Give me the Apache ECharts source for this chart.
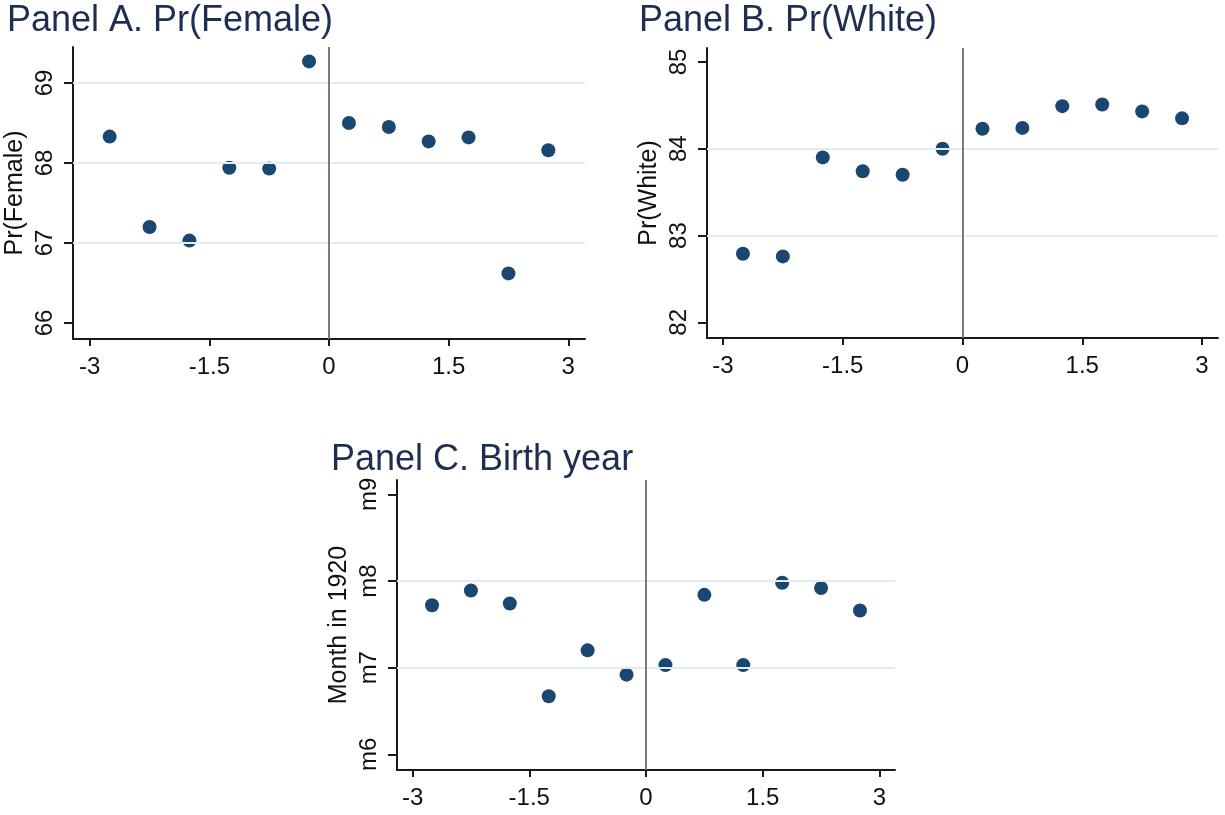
<!DOCTYPE html>
<html>
<head>
<meta charset="utf-8">
<script src="https://cdn.jsdelivr.net/npm/echarts@6/dist/echarts.min.js"></script>
<style>
  html, body { margin: 0; padding: 0; background: #ffffff; }
  #chart { width: 1225px; height: 815px; }
</style>
</head>
<body>
<div id="chart"></div>
<script>
// Bin midpoints of the running variable
const bins = [-2.75, -2.25, -1.75, -1.25, -0.75, -0.25, 0.25, 0.75, 1.25, 1.75, 2.25, 2.75];

// Binned means for each outcome
const female = [68.33, 67.20, 67.03, 67.94, 67.93, 69.27, 68.50, 68.45, 68.27, 68.32, 66.62, 68.16];
const white = [82.79, 82.76, 83.90, 83.74, 83.70, 84.00, 84.23, 84.24, 84.49, 84.51, 84.43, 84.35];
const birthMonth = [7.72, 7.89, 7.74, 6.67, 7.20, 6.92, 7.03, 7.84, 7.03, 7.98, 7.92, 7.66];

// Tick values and labels
const xTicks = [-3, -1.5, 0, 1.5, 3];
const femaleTicks = [66, 67, 68, 69];
const whiteTicks = [82, 83, 84, 85];
const monthTicks = [6, 7, 8, 9];
const monthTickLabels = ['m6', 'm7', 'm8', 'm9'];

// Horizontal reference lines
const femaleGrid = [67, 68, 69];
const whiteGrid = [83, 84];
const monthGrid = [7, 8];

const FONT = "'Liberation Sans', Arial, sans-serif";
const NAVY = '#1a476f';
const TITLE = '#1e2d52';
const INK = '#1a1a1a';

const panels = [
  {
    title: 'Panel A. Pr(Female)', titlePos: { left: 7, top: 3 },
    grid: { left: 73, top: 47, width: 512, height: 292 },
    xRange: [-3.21, 3.21], yRange: [65.8, 69.45],
    yTicks: femaleTicks, yName: 'Pr(Female)', ys: female, hlines: femaleGrid,
    fmt: v => String(v)
  },
  {
    title: 'Panel B. Pr(White)', titlePos: { left: 639, top: 3 },
    grid: { left: 707, top: 48, width: 511, height: 290 },
    xRange: [-3.2, 3.2], yRange: [81.82, 85.16],
    yTicks: whiteTicks, yName: 'Pr(White)', ys: white, hlines: whiteGrid,
    fmt: v => String(v)
  },
  {
    title: 'Panel C. Birth year', titlePos: { left: 331, top: 442 },
    grid: { left: 397, top: 480, width: 498, height: 290 },
    xRange: [-3.2, 3.2], yRange: [5.82, 9.165],
    yTicks: monthTicks, yName: 'Month in 1920', ys: birthMonth, hlines: monthGrid,
    fmt: v => monthTickLabels[monthTicks.indexOf(v)]
  }
];

const option = {
  animation: false,
  backgroundColor: '#ffffff',
  title: panels.map(p => ({
    text: p.title,
    left: p.titlePos.left,
    top: p.titlePos.top,
    padding: 0,
    textStyle: { fontFamily: FONT, fontSize: 36, fontWeight: 'normal', color: TITLE }
  })),
  grid: panels.map(p => Object.assign({ containLabel: false }, p.grid)),
  xAxis: panels.map((p, i) => ({
    type: 'value',
    gridIndex: i,
    min: p.xRange[0],
    max: p.xRange[1],
    axisLine: { show: true, onZero: false, lineStyle: { color: INK, width: 2 } },
    axisTick: { show: true, customValues: xTicks, length: 7, lineStyle: { color: INK, width: 2 } },
    axisLabel: {
      customValues: xTicks, margin: 16, fontSize: 24, fontFamily: FONT, color: '#111',
      formatter: v => String(v)
    },
    splitLine: { show: false }
  })),
  yAxis: panels.map((p, i) => ({
    type: 'value',
    gridIndex: i,
    min: p.yRange[0],
    max: p.yRange[1],
    name: p.yName,
    nameLocation: 'middle',
    nameGap: 45,
    nameTextStyle: { fontFamily: FONT, fontSize: 25, color: '#111' },
    axisLine: { show: true, onZero: false, lineStyle: { color: INK, width: 2 } },
    axisTick: { show: true, customValues: p.yTicks, length: 9, lineStyle: { color: INK, width: 2 } },
    axisLabel: {
      customValues: p.yTicks, rotate: 90, margin: 16, fontSize: 24, fontFamily: FONT, color: '#111',
      formatter: p.fmt
    },
    splitLine: { show: false }
  })),
  series: []
};

panels.forEach((p, i) => {
  // light horizontal reference lines and the vertical cutoff line
  option.series.push({
    type: 'scatter',
    xAxisIndex: i,
    yAxisIndex: i,
    data: [],
    z: 1,
    silent: true,
    markLine: {
      silent: true,
      symbol: ['none', 'none'],
      label: { show: false },
      animation: false,
      data: p.hlines.map(v => ({ yAxis: v, lineStyle: { color: '#e3edf0', width: 2, type: 'solid' } }))
        .concat([{ xAxis: 0, lineStyle: { color: '#7a7a7a', width: 2, type: 'solid' } }])
    }
  });
  // binned means
  option.series.push({
    type: 'scatter',
    xAxisIndex: i,
    yAxisIndex: i,
    z: 3,
    symbol: 'circle',
    symbolSize: 14,
    itemStyle: { color: NAVY, opacity: 1 },
    data: bins.map((x, k) => [x, p.ys[k]])
  });
});

const chart = echarts.init(document.getElementById('chart'), null, { renderer: 'canvas' });
chart.setOption(option);
</script>
</body>
</html>
